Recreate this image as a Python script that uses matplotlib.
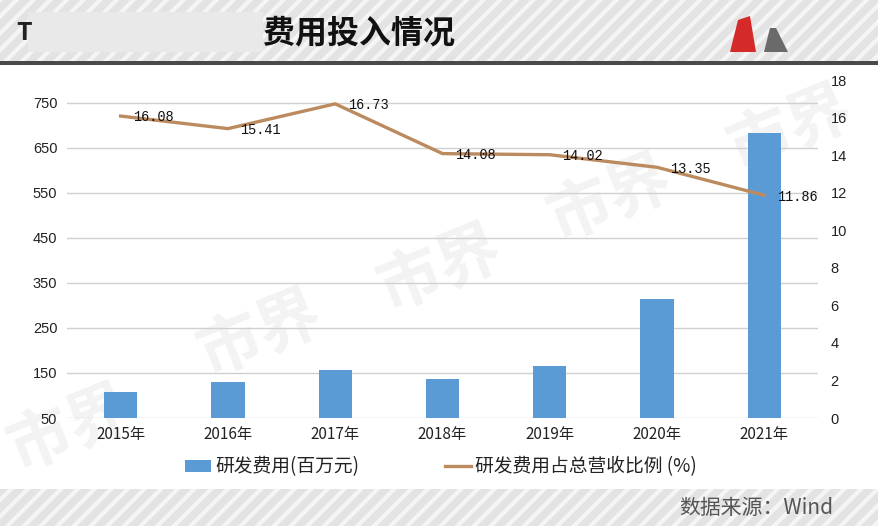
import numpy as np
import matplotlib
matplotlib.use("Agg")
import matplotlib.pyplot as plt
from matplotlib.patches import Rectangle, Polygon
from matplotlib.lines import Line2D

plt.rcParams['font.family'] = ['Noto Sans CJK SC', 'DejaVu Sans']
plt.rcParams['hatch.linewidth'] = 3

# data
years = ['2015年', '2016年', '2017年', '2018年', '2019年', '2020年', '2021年']
rd_cost = [108, 130, 156, 136, 165, 314, 682]          # 研发费用(百万元)
rd_ratio = [16.08, 15.41, 16.73, 14.08, 14.02, 13.35, 11.86]  # 占总营收比例(%)

W, H = 879, 526
fig = plt.figure(figsize=(W / 100, H / 100), dpi=100)
fig.patch.set_facecolor('white')


def fx(px):
    return px / W


def fy(py):
    return 1 - py / H


# header / footer bands with diagonal stripes
fig.add_artist(Rectangle((0, fy(61)), 1, 61 / H, transform=fig.transFigure,
                         facecolor='#E3E3E3', edgecolor='#F5F5F5', hatch='//', lw=0, zorder=-3))
fig.add_artist(Rectangle((0, fy(65)), 1, 4 / H, transform=fig.transFigure,
                         facecolor='#4A4A4A', lw=0, zorder=-2))
fig.add_artist(Rectangle((0, 0), 1, 37 / H, transform=fig.transFigure,
                         facecolor='#E3E3E3', edgecolor='#F5F5F5', hatch='//', lw=0, zorder=-3))

# title (left part is blurred in the reference)
fig.text(fx(455), fy(34), '研发费用投入情况', ha='right', va='center',
         fontsize=23, fontweight='heavy', color='#111111', zorder=2)
fig.add_artist(Rectangle((fx(28), fy(52)), fx(235), 40 / H, transform=fig.transFigure,
                         facecolor='#E9E9E9', lw=0, zorder=3))
fig.text(fx(16), fy(33), 'T', ha='left', va='center', fontsize=18,
         fontweight='bold', color='#222222', zorder=4)
# blurred logo top right
fig.add_artist(Polygon([[fx(730), fy(52)], [fx(738), fy(20)], [fx(750), fy(16)], [fx(756), fy(52)]],
                       closed=True, transform=fig.transFigure, facecolor='#D42A2A', lw=0, zorder=1))
fig.add_artist(Polygon([[fx(764), fy(52)], [fx(770), fy(28)], [fx(776), fy(28)], [fx(788), fy(52)]],
                       closed=True, transform=fig.transFigure, facecolor='#6A6A6A', lw=0, zorder=1))

# watermarks
for wx, wy in [(70, 430), (260, 335), (440, 270), (610, 200), (790, 130)]:
    fig.text(fx(wx), fy(wy), '市界', ha='center', va='center', fontsize=46,
             fontweight='heavy', color='#F3F3F3', rotation=22, zorder=-1)

ax = fig.add_axes([fx(67), fy(418), fx(751), 338 / H])
ax.patch.set_visible(False)
x = np.arange(len(years))

bars = ax.bar(x, [v - 50 for v in rd_cost], bottom=50, width=0.31,
              color='#5B9BD5', zorder=3)
ax.set_xlim(-0.5, len(years) - 0.5)
ax.set_ylim(50, 800)
ax.set_yticks(range(50, 751, 100))
ax.grid(axis='y', color='#D0D0D0', lw=1, zorder=0)
for s in ax.spines.values():
    s.set_visible(False)
ax.tick_params(axis='both', length=0)
ax.tick_params(axis='y', pad=7, labelsize=10.5, labelcolor='#222222')
for lab in ax.get_yticklabels():
    lab.set_family(['Liberation Sans', 'DejaVu Sans'])
ax.set_xticks(x)
ax.set_xticklabels(years, fontsize=11, color='#222222')
ax.tick_params(axis='x', pad=6)

ax2 = ax.twinx()
ax2.set_ylim(0, 18)
ax2.set_yticks(range(0, 19, 2))
for s in ax2.spines.values():
    s.set_visible(False)
ax2.tick_params(axis='y', length=0, pad=9, labelsize=10.5, labelcolor='#222222')
for lab in ax2.get_yticklabels():
    lab.set_family(['Liberation Sans', 'DejaVu Sans'])

line, = ax2.plot(x, rd_ratio, color='#BB8A5E', lw=2.4, zorder=4,
                 solid_joinstyle='round')
for xi, v in zip(x, rd_ratio):
    ax2.annotate(f'{v:.2f}', (xi, v), xytext=(9, -1), textcoords='offset points',
                 ha='left', va='center', fontsize=9.8, color='#111111', zorder=6,
                 family=['Liberation Mono', 'DejaVu Sans Mono'])

handles = [Rectangle((0, 0), 1, 1, facecolor='#5B9BD5'),
           Line2D([0], [0], color='#BB8A5E', lw=2.4)]
fig.legend(handles, ['研发费用(百万元)', '研发费用占总营收比例 (%)'], loc='center',
           bbox_to_anchor=(fx(441), fy(467)), ncol=2, frameon=False,
           fontsize=13.5, handlelength=1.4, handleheight=0.6, handletextpad=0.2,
           columnspacing=4.6, labelcolor='#222222')

fig.text(fx(833), fy(508), '数据来源：Wind', ha='right', va='center',
         fontsize=15, color='#555555')

fig.savefig('out.png', dpi=100)
